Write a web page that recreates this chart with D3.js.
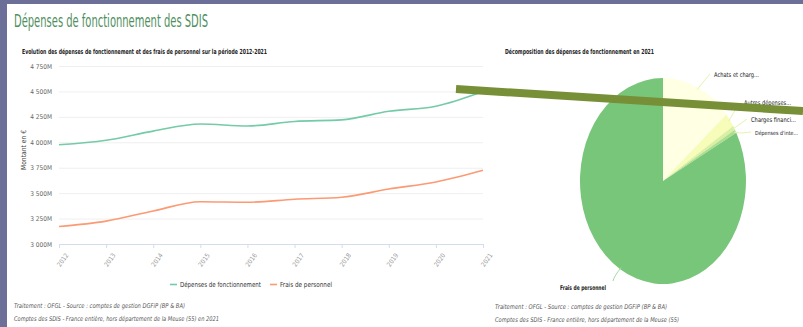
<!DOCTYPE html>
<html><head><meta charset="utf-8">
<script src="https://cdn.jsdelivr.net/npm/d3@7"></script>
<style>
html,body{margin:0;padding:0;background:#fff;}
svg{display:block;}
text{font-family:"Liberation Sans Narrow","DejaVu Sans Condensed","Liberation Sans",sans-serif;}
</style></head><body>
<svg id="c" width="803" height="327"></svg>
<script>
const years = ["2012","2013","2014","2015","2016","2017","2018","2019","2020","2021"];
const depensesFonct = [3975,4020,4110,4180,4160,4205,4220,4305,4355,4500];
const fraisPersonnel = [3172,3225,3325,3415,3410,3440,3460,3540,3610,3725];
const yTicks = [3000,3250,3500,3750,4000,4250,4500,4750];
const seriesNames = ["Dépenses de fonctionnement","Frais de personnel"];
const seriesColors = ["#74cba7","#fc9a74"];
const pieLabels = ["Achats et charg...","Autres dépenses...","Charges financi...","Dépenses d'inte...","Frais de personnel"];
const pieValues = [622,100,30,23,3725];
const pieColors = ["#ffffe3","#f7fcb9","#d9f0a3","#addd8e","#78c679"];

const svg = d3.select("#c");
function fit(sel, w){ return sel.attr("textLength",w).attr("lengthAdjust","spacingAndGlyphs"); }
// slide frame
svg.append("rect").attr("x",0).attr("y",0).attr("width",803).attr("height",327).attr("fill","#6c7098");
svg.append("rect").attr("x",7).attr("y",4).attr("width",796).attr("height",323).attr("fill","#fff");

fit(svg.append("text").attr("x",14).attr("y",27).attr("font-size",17).attr("fill","#4f8f5e")
  .text("Dépenses de fonctionnement des SDIS"),194);

// ---- line chart
const x = d3.scalePoint().domain(years).range([59,483]);
const y = d3.scaleLinear().domain([3000,4750]).range([244,66]);
const g = svg.append("g");
fit(g.append("text").attr("x",22).attr("y",54).attr("font-size",7).attr("font-weight","bold").attr("fill","#222")
  .text("Evolution des dépenses de fonctionnement et des frais de personnel sur la période 2012-2021"),245);

const fmt = v => d3.format(",")(v).replace(/,/g," ") + "M";
const ya = g.append("g").attr("transform","translate(59,0)")
  .call(d3.axisLeft(y).tickValues(yTicks).tickSize(-424).tickFormat(fmt).tickPadding(7));
ya.select(".domain").remove();
ya.selectAll("line").attr("stroke","#efefef");
ya.selectAll("text").attr("font-size",6.5).attr("fill","#666").attr("font-family",null);

const xa = g.append("g").attr("transform","translate(0,244)")
  .call(d3.axisBottom(x).tickSize(4).tickSizeOuter(0));
xa.select(".domain").attr("stroke","#d5dcea");
xa.selectAll("line").attr("stroke","#d5dcea");
xa.selectAll("text").attr("font-size",6.5).attr("fill","#9a9a9a").attr("font-family",null)
  .attr("text-anchor","end").attr("dy","0.3em")
  .attr("transform","translate(2,6) rotate(-55)");

fit(g.append("text").attr("transform","translate(26,150) rotate(-90)").attr("text-anchor","middle")
  .attr("font-size",7).attr("fill","#444").text("Montant en €"),40);

const line = d3.line().x((d,i)=>x(years[i])).y(d=>y(d)).curve(d3.curveMonotoneX);
[depensesFonct, fraisPersonnel].forEach((s,i)=>{
  g.append("path").attr("d",line(s)).attr("fill","none").attr("stroke",seriesColors[i]).attr("stroke-width",1.6);
});

// legend
const lg = g.append("g");
const legX = [170,270];
const legW = [81,52];
seriesNames.forEach((n,i)=>{
  lg.append("line").attr("x1",legX[i]).attr("x2",legX[i]+7).attr("y1",284.5).attr("y2",284.5)
    .attr("stroke",seriesColors[i]).attr("stroke-width",1.6);
  fit(lg.append("text").attr("x",legX[i]+10).attr("y",287).attr("font-size",7).attr("fill","#333").text(n),legW[i]);
});

// footnotes
const notesL = ["Traitement : OFGL - Source : comptes de gestion DGFiP (BP & BA)","Comptes des SDIS - France entière, hors département de la Meuse (55) en 2021"];
const notesR = ["Traitement : OFGL - Source : comptes de gestion DGFiP (BP & BA)","Comptes des SDIS - France entière, hors département de la Meuse (55)"];
const wL=[171,205], wR=[172,184];
notesL.forEach((t,i)=>fit(svg.append("text").attr("x",14).attr("y",308+i*13).attr("font-size",6.5)
  .attr("font-style","italic").attr("fill","#555").text(t),wL[i]));
notesR.forEach((t,i)=>fit(svg.append("text").attr("x",495).attr("y",309+i*13).attr("font-size",6.5)
  .attr("font-style","italic").attr("fill","#555").text(t),wR[i]));

// ---- pie
fit(svg.append("text").attr("x",505).attr("y",54).attr("font-size",7).attr("font-weight","bold").attr("fill","#222")
  .text("Décomposition des dépenses de fonctionnement en 2021"),149);
const cx=663, cy=181, rx=83, ry=103;
const pie = d3.pie().sort(null)(pieValues);
const arc = d3.arc().innerRadius(0).outerRadius(1);
const pg = svg.append("g").attr("transform",`translate(${cx},${cy}) scale(${rx},${ry})`);
pg.selectAll("path").data(pie).join("path").attr("d",arc).attr("fill",(d,i)=>pieColors[i]);

const labelPos = [[714,77],[744,105],[751,122],[755,135],[560,290]];
const labelW = [45,47,45,43,46];
const labelFs = [6.5,6.5,6.5,5.6,6.5];
const lineEnd = [[710,74],[740,103],[747,119],[751,132],[613,281]];
pie.forEach((d,i)=>{
  const a = (d.startAngle+d.endAngle)/2;
  const px = cx + Math.sin(a)*rx*0.98, py = cy - Math.cos(a)*ry*0.98;
  const e = lineEnd[i];
  svg.append("path").attr("d",`M${px},${py}Q${(px+e[0])/2+ (i===4?-3:-2)},${(py+e[1])/2+2} ${e[0]},${e[1]}`)
    .attr("fill","none").attr("stroke", i===4 ? "#a6d8a6" : "#e7f2b0").attr("stroke-width",1);
  fit(svg.append("text").attr("x",labelPos[i][0]).attr("y",labelPos[i][1]).attr("font-size",labelFs[i])
    .attr("fill","#222").attr("font-weight", i===4?"bold":null).text(pieLabels[i]),labelW[i]);
});

// overlay stroke from slide
svg.append("line").attr("x1",456).attr("y1",89).attr("x2",803).attr("y2",111)
  .attr("stroke","#778f37").attr("stroke-width",8);
</script>
</body></html>
